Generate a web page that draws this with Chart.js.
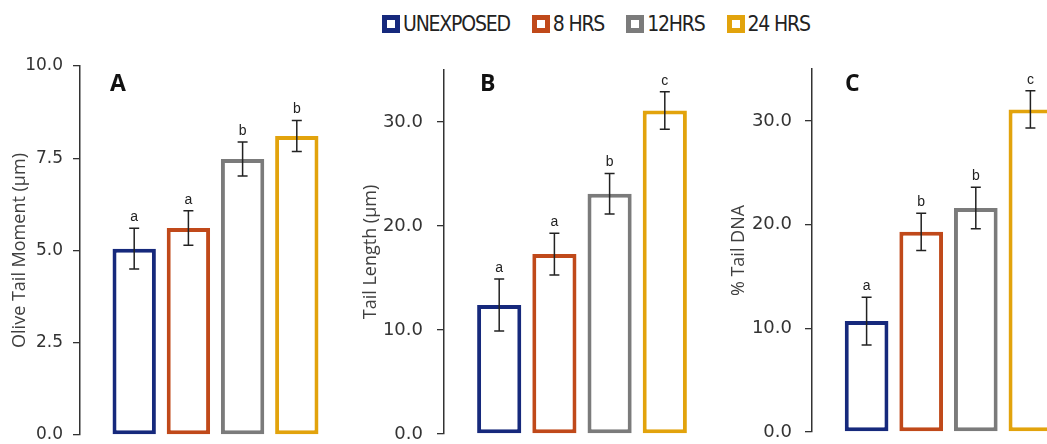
<!DOCTYPE html>
<html>
<head>
<meta charset="utf-8">
<script src="https://cdn.jsdelivr.net/npm/chart.js@4.4.0/dist/chart.umd.min.js"></script>
<style>
  body { margin: 0; width: 1047px; height: 444px; overflow: hidden; background: #fff; position: relative; }
  canvas { position: absolute; top: 40px; }
  #legend { position: absolute; top: 12px; left: 382px; display: flex; align-items: center;
            font-family: "Liberation Sans Narrow", "DejaVu Sans Condensed", sans-serif; font-size: 21px;
            letter-spacing: -1.2px; color: #222; }
  #legend .item { display: flex; align-items: center; margin-right: 22px; }
  #legend .box { width: 18px; height: 18px; box-sizing: border-box; border: 5px solid; background: #fff; margin-right: 3px; }
</style>
</head>
<body>
<div id="legend"></div>
<canvas id="chartA" width="356" height="404" style="left:0px;width:356px;height:404px"></canvas>
<canvas id="chartB" width="365" height="404" style="left:360px;width:365px;height:404px"></canvas>
<canvas id="chartC" width="362" height="404" style="left:728px;width:362px;height:404px"></canvas>
<script>
// groups and colours
const groups = ["UNEXPOSED", "8 HRS", "12HRS", "24 HRS"];
const groupColors = ["#16297c", "#c0491a", "#7b7b7b", "#e2a30c"];

// A: olive tail moment
const tailMoment = [5.05, 5.61, 7.48, 8.10];
const tailMomentErr = [0.55, 0.47, 0.46, 0.42];
const tailMomentSig = ["a", "a", "b", "b"];
const tailMomentTicks = [0, 2.5, 5, 7.5, 10];

// B: tail length
const tailLength = [12.4, 17.3, 23.1, 31.1];
const tailLengthErr = [2.5, 2.0, 1.95, 1.8];
const tailLengthSig = ["a", "a", "b", "c"];
const tailLengthTicks = [0, 10, 20, 30];

// C: % tail DNA
const tailDna = [10.7, 19.3, 21.6, 31.1];
const tailDnaErr = [2.3, 1.8, 2.0, 1.8];
const tailDnaSig = ["a", "b", "b", "c"];
const tailDnaTicks = [0, 10, 20, 30];

// legend
const legend = document.getElementById("legend");
groups.forEach((g, i) => {
  const item = document.createElement("span");
  item.className = "item";
  const box = document.createElement("span");
  box.className = "box";
  box.style.borderColor = groupColors[i];
  item.appendChild(box);
  item.appendChild(document.createTextNode(g));
  legend.appendChild(item);
});

// error bars + significance letters + panel letter
const extrasPlugin = {
  id: "extras",
  afterDatasetsDraw(chart, args, opts) {
    const ctx = chart.ctx;
    const y = chart.scales.y;
    ctx.save();
    ctx.strokeStyle = "#222";
    ctx.fillStyle = "#222";
    ctx.lineWidth = 1.5;
    ctx.font = "14px 'Liberation Sans', Arial, sans-serif";
    ctx.textAlign = "center";
    ctx.textBaseline = "bottom";
    chart.data.datasets.forEach((ds, i) => {
      const el = chart.getDatasetMeta(i).data[0];
      const v = ds.data[0], e = opts.errors[i];
      const top = y.getPixelForValue(v + e), bot = y.getPixelForValue(v - e);
      ctx.beginPath();
      ctx.moveTo(el.x, top); ctx.lineTo(el.x, bot);
      ctx.moveTo(el.x - 5, top); ctx.lineTo(el.x + 5, top);
      ctx.moveTo(el.x - 5, bot); ctx.lineTo(el.x + 5, bot);
      ctx.stroke();
      ctx.fillText(opts.sig[i], el.x, top - 4);
    });
    ctx.font = "bold 23px 'Open Sans', sans-serif";
    ctx.fillStyle = "#111";
    ctx.textAlign = "left";
    ctx.textBaseline = "top";
    ctx.fillText(opts.letter, chart.chartArea.left + opts.letterDx, 33);
    ctx.restore();
  }
};

function makePanel(id, cfg) {
  new Chart(document.getElementById(id), {
    type: "bar",
    data: {
      labels: [""],
      datasets: groups.map((g, i) => ({
        label: g,
        data: [cfg.values[i]],
        backgroundColor: "#fff",
        borderColor: groupColors[i],
        borderWidth: 4,
        borderSkipped: false,
        categoryPercentage: 0.8,
        barPercentage: 0.8
      }))
    },
    options: {
      responsive: false,
      animation: false,
      layout: { padding: { top: cfg.padTop, bottom: cfg.padBottom, left: 0, right: 5 } },
      plugins: {
        legend: { display: false },
        tooltip: { enabled: false },
        extras: { errors: cfg.errors, sig: cfg.sig, letter: cfg.letter, letterDx: cfg.letterDx }
      },
      scales: {
        x: { display: false },
        y: {
          min: 0,
          max: cfg.max,
          afterBuildTicks: s => { s.ticks = cfg.ticks.map(v => ({ value: v })); },
          afterFit: s => { s.width = cfg.yWidth; s.paddingTop = 0; s.paddingBottom = 0; },
          border: { display: true, color: "#333", width: 1.5 },
          grid: { drawOnChartArea: false, drawTicks: true, tickLength: 7, color: "#333", lineWidth: 1.3 },
          ticks: {
            padding: cfg.tickPad,
            color: "#333",
            font: { family: "'DejaVu Sans', sans-serif", size: cfg.tickSize },
            callback: v => Number(v).toFixed(1)
          },
          title: {
            display: true,
            text: cfg.title,
            color: "#404040",
            font: { family: "'Open Sans', sans-serif", size: 18 },
            padding: { top: cfg.titlePad, bottom: 0 }
          }
        }
      }
    },
    plugins: [extrasPlugin]
  });
}

makePanel("chartA", {
  values: tailMoment, errors: tailMomentErr, sig: tailMomentSig, ticks: tailMomentTicks,
  max: 10, title: "Olive Tail Moment (µm)", letter: "A", letterDx: 30,
  yWidth: 80, padTop: 26, padBottom: 9, tickPad: 10, tickSize: 17, titlePad: 9
});
makePanel("chartB", {
  values: tailLength, errors: tailLengthErr, sig: tailLengthSig, ticks: tailLengthTicks,
  max: 35, title: "Tail Length (µm)", letter: "B", letterDx: 36,
  yWidth: 84, padTop: 30, padBottom: 10, tickPad: 14, tickSize: 18, titlePad: 0
});
makePanel("chartC", {
  values: tailDna, errors: tailDnaErr, sig: tailDnaSig, ticks: tailDnaTicks,
  max: 35, title: "% Tail DNA", letter: "C", letterDx: 33,
  yWidth: 84, padTop: 29, padBottom: 12, tickPad: 13, tickSize: 18, titlePad: 0
});
</script>
</body>
</html>
